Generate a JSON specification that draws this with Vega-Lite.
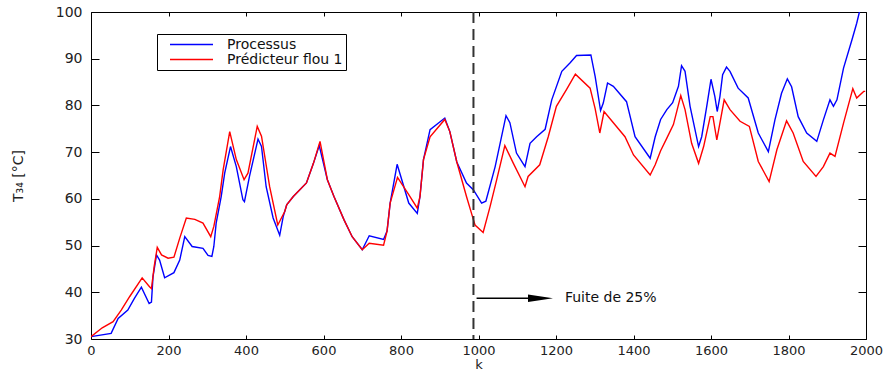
{
  "$schema": "https://vega.github.io/schema/vega-lite/v6.json",
  "width": 775,
  "height": 327,
  "autosize": "none",
  "padding": {"left": 91, "top": 12, "right": 27, "bottom": 33},
  "background": "white",
  "config": {
    "view": {"stroke": null},
    "font": "DejaVu Sans",
    "axis": {"labelFont": "DejaVu Sans", "labelFontSize": 14, "labelColor": "#222", "domainColor": "black", "tickColor": "black", "grid": false, "titleFont": "DejaVu Sans", "titleFontSize": 14, "titleFontWeight": "normal", "titleColor": "#222"}
  },
  "datasets": {
    "series": [
      {"k":0,"v":30.5,"s":"Processus"},{"k":52,"v":31.2,"s":"Processus"},{"k":70,"v":34.4,"s":"Processus"},{"k":95,"v":36.2,"s":"Processus"},{"k":112,"v":38.7,"s":"Processus"},{"k":130,"v":41.1,"s":"Processus"},{"k":150,"v":37.6,"s":"Processus"},{"k":156,"v":37.9,"s":"Processus"},{"k":160,"v":43.3,"s":"Processus"},{"k":169,"v":48,"s":"Processus"},{"k":177,"v":46.9,"s":"Processus"},{"k":190,"v":43.1,"s":"Processus"},{"k":214,"v":44.2,"s":"Processus"},{"k":229,"v":46.9,"s":"Processus"},{"k":242,"v":51.9,"s":"Processus"},{"k":261,"v":49.8,"s":"Processus"},{"k":289,"v":49.4,"s":"Processus"},{"k":302,"v":47.9,"s":"Processus"},{"k":312,"v":47.7,"s":"Processus"},{"k":317,"v":49.8,"s":"Processus"},{"k":323,"v":54.8,"s":"Processus"},{"k":336,"v":60.5,"s":"Processus"},{"k":345,"v":65.5,"s":"Processus"},{"k":360,"v":71.2,"s":"Processus"},{"k":375,"v":66.9,"s":"Processus"},{"k":392,"v":59.8,"s":"Processus"},{"k":396,"v":59.4,"s":"Processus"},{"k":409,"v":64.8,"s":"Processus"},{"k":431,"v":72.8,"s":"Processus"},{"k":440,"v":71.2,"s":"Processus"},{"k":452,"v":62.6,"s":"Processus"},{"k":470,"v":55.9,"s":"Processus"},{"k":487,"v":52.2,"s":"Processus"},{"k":496,"v":56.2,"s":"Processus"},{"k":505,"v":58.7,"s":"Processus"},{"k":522,"v":60.5,"s":"Processus"},{"k":556,"v":63.4,"s":"Processus"},{"k":574,"v":67.6,"s":"Processus"},{"k":589,"v":71.4,"s":"Processus"},{"k":610,"v":64.1,"s":"Processus"},{"k":627,"v":60.5,"s":"Processus"},{"k":653,"v":55.5,"s":"Processus"},{"k":674,"v":51.9,"s":"Processus"},{"k":700,"v":49.1,"s":"Processus"},{"k":718,"v":52.1,"s":"Processus"},{"k":755,"v":51.3,"s":"Processus"},{"k":764,"v":53.1,"s":"Processus"},{"k":772,"v":59.1,"s":"Processus"},{"k":790,"v":67.4,"s":"Processus"},{"k":820,"v":59.1,"s":"Processus"},{"k":842,"v":56.9,"s":"Processus"},{"k":849,"v":60.5,"s":"Processus"},{"k":858,"v":68.4,"s":"Processus"},{"k":875,"v":74.8,"s":"Processus"},{"k":913,"v":77.3,"s":"Processus"},{"k":926,"v":74.4,"s":"Processus"},{"k":944,"v":67.9,"s":"Processus"},{"k":969,"v":63.4,"s":"Processus"},{"k":987,"v":61.9,"s":"Processus"},{"k":1008,"v":59.1,"s":"Processus"},{"k":1019,"v":59.5,"s":"Processus"},{"k":1043,"v":66.9,"s":"Processus"},{"k":1071,"v":77.8,"s":"Processus"},{"k":1081,"v":76.3,"s":"Processus"},{"k":1098,"v":69.8,"s":"Processus"},{"k":1120,"v":66.9,"s":"Processus"},{"k":1133,"v":71.9,"s":"Processus"},{"k":1150,"v":73.3,"s":"Processus"},{"k":1172,"v":74.9,"s":"Processus"},{"k":1189,"v":81.2,"s":"Processus"},{"k":1215,"v":87.3,"s":"Processus"},{"k":1236,"v":89.1,"s":"Processus"},{"k":1253,"v":90.7,"s":"Processus"},{"k":1290,"v":90.8,"s":"Processus"},{"k":1301,"v":86.2,"s":"Processus"},{"k":1315,"v":78.9,"s":"Processus"},{"k":1322,"v":80.5,"s":"Processus"},{"k":1333,"v":84.8,"s":"Processus"},{"k":1348,"v":84.1,"s":"Processus"},{"k":1382,"v":80.8,"s":"Processus"},{"k":1404,"v":73.3,"s":"Processus"},{"k":1443,"v":68.7,"s":"Processus"},{"k":1456,"v":73.3,"s":"Processus"},{"k":1470,"v":77,"s":"Processus"},{"k":1486,"v":79.1,"s":"Processus"},{"k":1501,"v":80.6,"s":"Processus"},{"k":1516,"v":84.1,"s":"Processus"},{"k":1524,"v":88.5,"s":"Processus"},{"k":1533,"v":87.3,"s":"Processus"},{"k":1546,"v":79.8,"s":"Processus"},{"k":1568,"v":71.2,"s":"Processus"},{"k":1576,"v":73.3,"s":"Processus"},{"k":1589,"v":79.8,"s":"Processus"},{"k":1600,"v":85.6,"s":"Processus"},{"k":1610,"v":81.9,"s":"Processus"},{"k":1616,"v":78.7,"s":"Processus"},{"k":1623,"v":81.9,"s":"Processus"},{"k":1630,"v":86.6,"s":"Processus"},{"k":1640,"v":88.2,"s":"Processus"},{"k":1649,"v":87.3,"s":"Processus"},{"k":1670,"v":83.7,"s":"Processus"},{"k":1696,"v":81.6,"s":"Processus"},{"k":1722,"v":74.1,"s":"Processus"},{"k":1748,"v":70.1,"s":"Processus"},{"k":1765,"v":76.9,"s":"Processus"},{"k":1782,"v":82.6,"s":"Processus"},{"k":1797,"v":85.7,"s":"Processus"},{"k":1808,"v":84,"s":"Processus"},{"k":1825,"v":77.6,"s":"Processus"},{"k":1847,"v":74.1,"s":"Processus"},{"k":1873,"v":72.3,"s":"Processus"},{"k":1890,"v":76.9,"s":"Processus"},{"k":1907,"v":81.2,"s":"Processus"},{"k":1916,"v":79.8,"s":"Processus"},{"k":1925,"v":81.2,"s":"Processus"},{"k":1942,"v":88,"s":"Processus"},{"k":1964,"v":94.1,"s":"Processus"},{"k":1976,"v":97.6,"s":"Processus"},{"k":1983,"v":100,"s":"Processus"},{"k":1990,"v":101,"s":"Processus"},{"k":2000,"v":101,"s":"Processus"},
      {"k":0,"v":30.5,"s":"Prédicteur flou 1"},{"k":29,"v":32.4,"s":"Prédicteur flou 1"},{"k":57,"v":33.7,"s":"Prédicteur flou 1"},{"k":78,"v":36.2,"s":"Prédicteur flou 1"},{"k":100,"v":39.1,"s":"Prédicteur flou 1"},{"k":132,"v":43.1,"s":"Prédicteur flou 1"},{"k":151,"v":41.2,"s":"Prédicteur flou 1"},{"k":156,"v":40.8,"s":"Prédicteur flou 1"},{"k":163,"v":45.5,"s":"Prédicteur flou 1"},{"k":171,"v":49.6,"s":"Prédicteur flou 1"},{"k":182,"v":48,"s":"Prédicteur flou 1"},{"k":199,"v":47.3,"s":"Prédicteur flou 1"},{"k":214,"v":47.5,"s":"Prédicteur flou 1"},{"k":229,"v":51.6,"s":"Prédicteur flou 1"},{"k":246,"v":55.9,"s":"Prédicteur flou 1"},{"k":268,"v":55.6,"s":"Prédicteur flou 1"},{"k":289,"v":54.8,"s":"Prédicteur flou 1"},{"k":309,"v":51.9,"s":"Prédicteur flou 1"},{"k":317,"v":54.1,"s":"Prédicteur flou 1"},{"k":332,"v":60.5,"s":"Prédicteur flou 1"},{"k":341,"v":66.2,"s":"Prédicteur flou 1"},{"k":358,"v":74.4,"s":"Prédicteur flou 1"},{"k":375,"v":68.4,"s":"Prédicteur flou 1"},{"k":395,"v":64.1,"s":"Prédicteur flou 1"},{"k":405,"v":65.5,"s":"Prédicteur flou 1"},{"k":429,"v":75.5,"s":"Prédicteur flou 1"},{"k":440,"v":73.4,"s":"Prédicteur flou 1"},{"k":461,"v":62.6,"s":"Prédicteur flou 1"},{"k":482,"v":54.4,"s":"Prédicteur flou 1"},{"k":500,"v":57.3,"s":"Prédicteur flou 1"},{"k":505,"v":58.7,"s":"Prédicteur flou 1"},{"k":522,"v":60.5,"s":"Prédicteur flou 1"},{"k":556,"v":63.4,"s":"Prédicteur flou 1"},{"k":574,"v":67.6,"s":"Prédicteur flou 1"},{"k":591,"v":72.3,"s":"Prédicteur flou 1"},{"k":610,"v":64.1,"s":"Prédicteur flou 1"},{"k":627,"v":60.5,"s":"Prédicteur flou 1"},{"k":653,"v":55.5,"s":"Prédicteur flou 1"},{"k":674,"v":51.9,"s":"Prédicteur flou 1"},{"k":700,"v":49.1,"s":"Prédicteur flou 1"},{"k":718,"v":50.5,"s":"Prédicteur flou 1"},{"k":755,"v":50.1,"s":"Prédicteur flou 1"},{"k":764,"v":53.1,"s":"Prédicteur flou 1"},{"k":772,"v":59.1,"s":"Prédicteur flou 1"},{"k":791,"v":64.6,"s":"Prédicteur flou 1"},{"k":820,"v":60.9,"s":"Prédicteur flou 1"},{"k":842,"v":58,"s":"Prédicteur flou 1"},{"k":849,"v":60.5,"s":"Prédicteur flou 1"},{"k":858,"v":68.4,"s":"Prédicteur flou 1"},{"k":875,"v":73.3,"s":"Prédicteur flou 1"},{"k":913,"v":77,"s":"Prédicteur flou 1"},{"k":926,"v":74.4,"s":"Prédicteur flou 1"},{"k":944,"v":67.9,"s":"Prédicteur flou 1"},{"k":969,"v":60.5,"s":"Prédicteur flou 1"},{"k":982,"v":56.9,"s":"Prédicteur flou 1"},{"k":991,"v":54.4,"s":"Prédicteur flou 1"},{"k":1012,"v":52.8,"s":"Prédicteur flou 1"},{"k":1030,"v":58.4,"s":"Prédicteur flou 1"},{"k":1047,"v":64.1,"s":"Prédicteur flou 1"},{"k":1068,"v":71.4,"s":"Prédicteur flou 1"},{"k":1090,"v":67.6,"s":"Prédicteur flou 1"},{"k":1120,"v":62.6,"s":"Prédicteur flou 1"},{"k":1128,"v":64.8,"s":"Prédicteur flou 1"},{"k":1158,"v":67.3,"s":"Prédicteur flou 1"},{"k":1180,"v":73.3,"s":"Prédicteur flou 1"},{"k":1201,"v":79.8,"s":"Prédicteur flou 1"},{"k":1227,"v":83.4,"s":"Prédicteur flou 1"},{"k":1250,"v":86.7,"s":"Prédicteur flou 1"},{"k":1288,"v":83.7,"s":"Prédicteur flou 1"},{"k":1301,"v":79.3,"s":"Prédicteur flou 1"},{"k":1313,"v":74.1,"s":"Prédicteur flou 1"},{"k":1324,"v":78.7,"s":"Prédicteur flou 1"},{"k":1348,"v":76.3,"s":"Prédicteur flou 1"},{"k":1378,"v":73.3,"s":"Prédicteur flou 1"},{"k":1400,"v":69.4,"s":"Prédicteur flou 1"},{"k":1443,"v":65.1,"s":"Prédicteur flou 1"},{"k":1456,"v":67.3,"s":"Prédicteur flou 1"},{"k":1470,"v":70.3,"s":"Prédicteur flou 1"},{"k":1486,"v":73,"s":"Prédicteur flou 1"},{"k":1503,"v":75.9,"s":"Prédicteur flou 1"},{"k":1522,"v":82.1,"s":"Prédicteur flou 1"},{"k":1533,"v":79.1,"s":"Prédicteur flou 1"},{"k":1550,"v":71.9,"s":"Prédicteur flou 1"},{"k":1568,"v":67.6,"s":"Prédicteur flou 1"},{"k":1581,"v":71.2,"s":"Prédicteur flou 1"},{"k":1598,"v":77.6,"s":"Prédicteur flou 1"},{"k":1605,"v":77.6,"s":"Prédicteur flou 1"},{"k":1615,"v":72.6,"s":"Prédicteur flou 1"},{"k":1623,"v":76.2,"s":"Prédicteur flou 1"},{"k":1634,"v":81.2,"s":"Prédicteur flou 1"},{"k":1649,"v":79.1,"s":"Prédicteur flou 1"},{"k":1675,"v":76.6,"s":"Prédicteur flou 1"},{"k":1699,"v":75.5,"s":"Prédicteur flou 1"},{"k":1722,"v":68,"s":"Prédicteur flou 1"},{"k":1750,"v":63.7,"s":"Prédicteur flou 1"},{"k":1770,"v":70.5,"s":"Prédicteur flou 1"},{"k":1795,"v":76.7,"s":"Prédicteur flou 1"},{"k":1812,"v":74.1,"s":"Prédicteur flou 1"},{"k":1838,"v":68,"s":"Prédicteur flou 1"},{"k":1871,"v":64.8,"s":"Prédicteur flou 1"},{"k":1890,"v":66.9,"s":"Prédicteur flou 1"},{"k":1907,"v":69.8,"s":"Prédicteur flou 1"},{"k":1920,"v":69.1,"s":"Prédicteur flou 1"},{"k":1942,"v":76.2,"s":"Prédicteur flou 1"},{"k":1966,"v":83.6,"s":"Prédicteur flou 1"},{"k":1976,"v":81.6,"s":"Prédicteur flou 1"},{"k":1994,"v":83,"s":"Prédicteur flou 1"},{"k":1998,"v":83,"s":"Prédicteur flou 1"}
    ],
    "marker": [{"k": 987}],
    "arrow": [{"k": 995, "k2": 1160, "v": 38.7, "label": "Fuite de 25%", "kt": 1223}]
  },
  "resolve": {"axis": {"x": "independent", "y": "independent"}},
  "layer": [
    {
      "data": {"name": "series"},
      "mark": {"type": "line", "strokeWidth": 1.4, "clip": true},
      "encoding": {
        "x": {"field": "k", "type": "quantitative", "scale": {"domain": [0, 2000], "nice": false, "zero": false},
              "axis": {"orient": "bottom", "values": [0,200,400,600,800,1000,1200,1400,1600,1800,2000], "format": "d", "tickSize": -4, "labelPadding": 9, "labelFontSize": 13, "title": "k", "titleFontSize": 13, "titleY": 32, "titleBaseline": "bottom", "labelFlush": false}},
        "y": {"field": "v", "type": "quantitative", "scale": {"domain": [30, 100], "nice": false, "zero": false},
              "axis": {"orient": "left", "values": [30,40,50,60,70,80,90,100], "tickSize": -8, "labelPadding": 17, "title": "T₃₄ [°C]", "titleX": -73, "titleY": 163.5, "titleAngle": -90, "titleBaseline": "middle", "titleAlign": "center"}},
        "color": {"field": "s", "type": "nominal", "sort": ["Processus", "Prédicteur flou 1"],
                  "scale": {"domain": ["Processus", "Prédicteur flou 1"], "range": ["#0000ff", "#ff0000"]},
                  "legend": {"orient": "none", "legendX": 66, "legendY": 22, "title": null, "strokeColor": "black", "fillColor": "white", "padding": 3, "symbolType": "stroke", "symbolSize": 1849, "symbolStrokeWidth": 1.3, "labelFont": "DejaVu Sans", "labelFontSize": 14, "labelColor": "#111", "labelOffset": 13, "symbolOffset": 9, "rowPadding": 0, "clipHeight": 15}}
      }
    },
    {
      "data": {"name": "marker"},
      "mark": {"type": "rule", "color": "#333", "strokeWidth": 2, "strokeDash": [11, 6]},
      "encoding": {"x": {"field": "k", "type": "quantitative", "axis": null}}
    },
    {
      "data": {"name": "arrow"},
      "mark": {"type": "rule", "color": "black", "strokeWidth": 1.5},
      "encoding": {
        "x": {"field": "k", "type": "quantitative", "axis": {"orient": "top", "values": [0,200,400,600,800,1000,1200,1400,1600,1800,2000], "labels": false, "tickSize": -4, "title": null}},
        "x2": {"field": "k2"},
        "y": {"field": "v", "type": "quantitative", "axis": {"orient": "right", "values": [30,40,50,60,70,80,90,100], "labels": false, "tickSize": -8, "title": null}}
      }
    },
    {
      "data": {"name": "arrow"},
      "mark": {"type": "point", "shape": "M -1 -0.3 L 1 0 L -1 0.3 Z", "size": 625, "filled": true, "color": "black", "opacity": 1},
      "encoding": {"x": {"field": "k2", "type": "quantitative", "axis": null}, "y": {"field": "v", "type": "quantitative", "axis": null}}
    },
    {
      "data": {"name": "arrow"},
      "mark": {"type": "text", "align": "left", "baseline": "middle", "font": "DejaVu Sans", "fontSize": 14, "color": "#111"},
      "encoding": {"x": {"field": "kt", "type": "quantitative", "axis": null}, "y": {"field": "v", "type": "quantitative", "axis": null}, "text": {"field": "label"}}
    }
  ]
}
